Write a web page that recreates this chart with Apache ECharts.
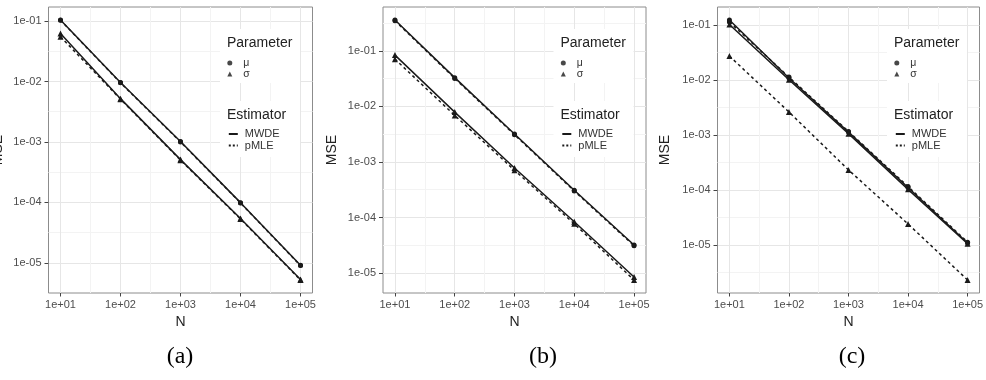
<!DOCTYPE html>
<html>
<head>
<meta charset="utf-8">
<script src="https://cdn.jsdelivr.net/npm/echarts@6/dist/echarts.min.js"></script>
<style>
html, body { margin: 0; padding: 0; background: #fff; }
#chart { width: 986px; height: 380px; }
</style>
</head>
<body>
<div id="chart"></div>
<script>
// sample sizes on the x axis
var sizes = [10, 100, 1000, 10000, 100000];

// MSE, one array per panel / parameter / estimator
var aMuMWDE    = [0.104, 0.0096, 0.00102, 0.000099, 0.0000091];
var aMuPMLE    = [0.103, 0.0095, 0.00100, 0.000098, 0.0000090];
var aSigmaMWDE = [0.062, 0.0052, 0.00051, 0.000054, 0.0000053];
var aSigmaPMLE = [0.055, 0.0051, 0.00050, 0.000053, 0.0000052];

var bMuMWDE    = [0.360, 0.0330, 0.00320, 0.000310, 0.0000320];
var bMuPMLE    = [0.350, 0.0320, 0.00310, 0.000300, 0.0000310];
var bSigmaMWDE = [0.084, 0.0079, 0.00078, 0.000084, 0.0000085];
var bSigmaPMLE = [0.071, 0.0069, 0.00071, 0.000077, 0.0000075];

var cMuMWDE    = [0.122, 0.0108, 0.00112, 0.000110, 0.0000108];
var cMuPMLE    = [0.112, 0.0112, 0.00115, 0.000115, 0.0000112];
var cSigmaMWDE = [0.101, 0.0100, 0.00105, 0.000102, 0.0000105];
var cSigmaPMLE = [0.027, 0.0026, 0.00023, 0.000024, 0.0000023];

var captions = ['(a)', '(b)', '(c)'];

var panels = [
	{ mu: [aMuMWDE, aMuPMLE], sigma: [aSigmaMWDE, aSigmaPMLE] },
	{ mu: [bMuMWDE, bMuPMLE], sigma: [bSigmaMWDE, bSigmaPMLE] },
	{ mu: [cMuMWDE, cMuPMLE], sigma: [cSigmaMWDE, cSigmaPMLE] }
];

// where each plot panel sits on the page
var boxes = [
	{ left: 48.5, width: 264, captionX: 180, nameGap: 43 },
	{ left: 383, width: 263, captionX: 543, nameGap: 44 },
	{ left: 717.5, width: 262, captionX: 852, nameGap: 45 }
];
var plotTop = 7, plotHeight = 286;

var ink = '#1a1a1a';
var font = 'Liberation Sans, Arial, sans-serif';

function log10(v) { return Math.log(v) / Math.LN10; }

function pts(vals) {
	return sizes.map(function(n, k) { return [log10(n), log10(vals[k])]; });
}

// "1e-03" style labels like R prints them
function sci(v) {
	if (Math.abs(v - Math.round(v)) > 1e-6) return '';
	var e = Math.round(v);
	var s = Math.abs(e) < 10 ? '0' + Math.abs(e) : '' + Math.abs(e);
	return '1e' + (e < 0 ? '-' : '+') + s;
}

// ggplot style 5% expansion of the data range
function expand(lo, hi) {
	var d = (hi - lo) * 0.05;
	return [lo - d, hi + d];
}

function intsIn(r) {
	var out = [];
	for (var i = Math.ceil(r[0]); i <= Math.floor(r[1]); i++) out.push(i);
	return out;
}

var grids = [], xAxes = [], yAxes = [], series = [], legends = [], graphics = [];

panels.forEach(function(p, i) {
	var b = boxes[i];
	grids.push({
		left: b.left, top: plotTop, width: b.width, height: plotHeight,
		containLabel: false, outerBoundsMode: 'none',
		show: true, borderColor: '#8c8c8c', borderWidth: 1, backgroundColor: 'transparent'
	});

	var all = [].concat(p.mu[0], p.mu[1], p.sigma[0], p.sigma[1]).map(log10);
	var yr = expand(Math.min.apply(null, all), Math.max.apply(null, all));
	var xr = expand(log10(sizes[0]), log10(sizes[sizes.length - 1]));
	var xTicks = intsIn(xr), yTicks = intsIn(yr);

	var common = {
		type: 'value',
		gridIndex: i,
		minInterval: 1,
		maxInterval: 1,
		axisLine: { show: false },
		minorTick: { show: false, splitNumber: 2 },
		splitLine: { show: true, lineStyle: { color: '#e6e6e6', width: 1 } },
		minorSplitLine: { show: true, lineStyle: { color: '#f3f3f3', width: 1 } },
		nameLocation: 'middle',
		nameTextStyle: { fontSize: 14, color: '#222', fontFamily: font }
	};

	xAxes.push(Object.assign({}, common, {
		min: xr[0], max: xr[1], splitNumber: 4,
		name: 'N', nameGap: 19,
		axisTick: { show: true, length: 3.5, lineStyle: { color: '#444' }, customValues: xTicks },
		axisLabel: { customValues: xTicks, formatter: sci, margin: 6, fontSize: 11, color: '#4d4d4d', fontFamily: font }
	}));
	yAxes.push(Object.assign({}, common, {
		min: yr[0], max: yr[1], splitNumber: 5,
		name: 'MSE', nameGap: b.nameGap,
		axisTick: { show: true, length: 4, lineStyle: { color: '#444' }, customValues: yTicks },
		axisLabel: { customValues: yTicks, formatter: sci, margin: 7, fontSize: 11, color: '#4d4d4d', fontFamily: font }
	}));

	var kinds = [
		{ name: 'μ', sym: 'circle', size: 5, vals: p.mu },
		{ name: 'σ', sym: 'triangle', size: 6, vals: p.sigma }
	];
	kinds.forEach(function(k) {
		['MWDE', 'pMLE'].forEach(function(est, j) {
			series.push({
				type: 'line',
				name: k.name + ' ' + est,
				xAxisIndex: i, yAxisIndex: i,
				data: pts(k.vals[j]),
				symbol: k.sym, symbolSize: k.size,
				itemStyle: { color: ink },
				lineStyle: { color: ink, width: 1.5, type: j === 0 ? 'solid' : [3, 3] },
				silent: true, animation: false
			});
		});
	});

	// legend blocks drawn inside the panel, right side, on white boxes like ggplot
	var lx = b.left + b.width - 85.5;
	graphics.push({ type: 'rect', z: 10, silent: true,
		shape: { x: lx - 7, y: 29, width: 80, height: 54 }, style: { fill: '#fff' } });
	graphics.push({ type: 'rect', z: 10, silent: true,
		shape: { x: lx - 7, y: 101, width: 80, height: 56 }, style: { fill: '#fff' } });
	graphics.push({ type: 'text', x: lx, y: 43.5, z: 11,
		style: { text: 'Parameter', fontSize: 14, fontFamily: font, fill: '#222', verticalAlign: 'middle', align: 'left' } });
	graphics.push({ type: 'text', x: lx, y: 115, z: 11,
		style: { text: 'Estimator', fontSize: 14, fontFamily: font, fill: '#222', verticalAlign: 'middle', align: 'left' } });
	graphics.push({ type: 'text', x: b.captionX, y: 357,
		style: { text: captions[i], fontSize: 24, fontFamily: 'Liberation Serif, Times New Roman, serif', fill: '#000', verticalAlign: 'middle', align: 'center' } });

	legends.push({
		data: ['μ', 'σ'], orient: 'vertical', left: lx + 0.3, top: 57.5, z: 12, padding: 0,
		itemWidth: 5, itemHeight: 5, itemGap: 0, selectedMode: false,
		textStyle: { fontSize: 10.5, lineHeight: 9.5, color: '#333', fontFamily: font, padding: [0, 0, 0, 6] }
	});
	legends.push({
		data: ['MWDE', 'pMLE'], orient: 'vertical', left: lx + 0.8, top: 128.5, z: 12, padding: 0,
		itemWidth: 9, itemHeight: 5, itemGap: 0.5, selectedMode: false,
		itemStyle: { opacity: 0 },
		textStyle: { fontSize: 11, lineHeight: 11, color: '#333', fontFamily: font, padding: [0, 0, 0, 2] }
	});
});

// empty series that only feed the legend entries
series.push({ type: 'scatter', name: 'μ', data: [], symbol: 'circle', itemStyle: { color: ink } });
series.push({ type: 'scatter', name: 'σ', data: [], symbol: 'triangle', itemStyle: { color: ink } });
series.push({ type: 'line', name: 'MWDE', data: [], symbol: 'none', itemStyle: { color: ink }, lineStyle: { color: ink, width: 1.3, type: 'solid' } });
series.push({ type: 'line', name: 'pMLE', data: [], symbol: 'none', itemStyle: { color: ink }, lineStyle: { color: ink, width: 1.3, type: [2, 2] } });

var chart = echarts.init(document.getElementById('chart'), null, { renderer: 'canvas' });
chart.setOption({
	animation: false,
	backgroundColor: '#fff',
	grid: grids,
	xAxis: xAxes,
	yAxis: yAxes,
	legend: legends,
	series: series,
	graphic: graphics
});
</script>
</body>
</html>
